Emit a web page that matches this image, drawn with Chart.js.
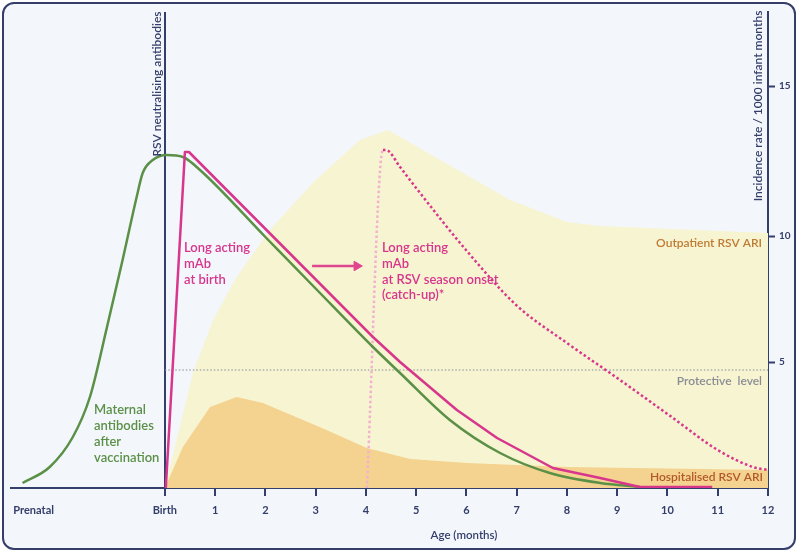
<!DOCTYPE html>
<html>
<head>
<meta charset="utf-8">
<script src="https://cdn.jsdelivr.net/npm/chart.js@4.4.0/dist/chart.umd.min.js"></script>
<style>
  html, body { margin: 0; padding: 0; background: #ffffff; }
  canvas { display: block; }
</style>
</head>
<body>
<canvas id="c" width="800" height="553"></canvas>
<script>
// ---------- data ----------
const xTickValues = [-2.61, 0, 1, 2, 3, 4, 5, 6, 7, 8, 9, 10, 11, 12];
const xTickLabels = ['Prenatal', 'Birth', '1', '2', '3', '4', '5', '6', '7', '8', '9', '10', '11', '12'];
const incidenceTickValues = [25.2, 50.4, 80.4];
const incidenceTickLabels = ['5', '10', '15'];

const outpatientX = [0, 0.56, 0.96, 1.43, 2.09, 2.94, 3.88, 4.44, 4.68, 6.87, 8.0, 8.66, 12];
const outpatientY = [0, 23, 33.6, 42.2, 51.6, 61, 69.6, 71.6, 70.2, 57.6, 53.2, 52.4, 51];

const hospitalX = [0, 0.36, 0.9, 1.43, 1.95, 3.08, 4.02, 4.88, 6.01, 8.0, 12];
const hospitalY = [0, 8.2, 16.2, 18.2, 17, 12.2, 8, 5.8, 5, 4.2, 3.6];

const maternalX = [-2.83, -2.29, -1.83, -1.49, -1.15, -0.84, -0.56, -0.44, -0.24, 0.04, 0.36, 0.70, 2, 3, 4.14, 4.68, 5.67, 6.67, 7.66, 8.66, 9.45];
const maternalY = [1, 4.2, 10.2, 18.2, 32.2, 45.6, 58.2, 63, 65.6, 66.6, 66.2, 63.6, 50.2, 39.9, 28.2, 23, 13.6, 7, 3, 1, 0.2];

const mabBirthX = [0.02, 0.4, 0.48, 4.14, 4.68, 5.81, 6.61, 7.72, 8.66, 9.45, 10.89];
const mabBirthY = [0, 67.2, 67.2, 30.2, 25.2, 15.6, 10, 4, 2, 0.2, 0.2];

const catchUpX = [4.02, 4.34, 4.4, 4.68, 5, 6, 7, 8, 9, 10, 11, 11.7, 12];
const catchUpY = [0, 67.6, 67.6, 64.2, 60, 47.5, 36.5, 29, 22, 14.8, 7.6, 4.2, 3.6];

const protectiveX = [0, 12];
const protectiveY = [23.6, 23.6];

const arrowX = [2.93, 3.82];
const arrowY = [44.4, 44.4];

// ---------- styling ----------
const NAVY = '#343e6a';
const GREEN = '#5b9047';
const PINK = '#d8358c';
const PINK_FADED = '#f3b0cf';
const pts = (xs, ys) => xs.map((x, i) => ({ x: x, y: ys[i] }));

const framePlugin = {
  id: 'frame',
  beforeDraw(chart) {
    const ctx = chart.ctx;
    ctx.save();
    ctx.fillStyle = '#ffffff';
    ctx.fillRect(0, 0, chart.width, chart.height);
    ctx.beginPath();
    ctx.roundRect(3, 3, 792, 546, 11);
    ctx.fillStyle = '#f3f6fb';
    ctx.fill();
    ctx.lineWidth = 2;
    ctx.strokeStyle = NAVY;
    ctx.stroke();
    ctx.restore();
  }
};

const textPlugin = {
  id: 'texts',
  afterDraw(chart) {
    const ctx = chart.ctx;
    ctx.save();
    ctx.textBaseline = 'middle';
    const lines = (arr, x, y0, dy, color, font, align) => {
      ctx.fillStyle = color; ctx.font = font; ctx.textAlign = align || 'left';
      arr.forEach((t, i) => ctx.fillText(t, x, y0 + i * dy));
    };
    lines(['Maternal', 'antibodies', 'after', 'vaccination'], 94, 410, 16, GREEN, '600 13px Lato');
    lines(['Long acting', 'mAb', 'at birth'], 184, 248, 15.7, PINK, '600 13px Lato');
    lines(['Long acting', 'mAb', 'at RSV season onset', '(catch-up)*'], 382, 248, 15.7, PINK, '600 13px Lato');
    lines(['Outpatient RSV ARI'], 762, 243, 0, '#c07a34', '600 12px Lato', 'right');
    lines(['Protective  level'], 762, 381, 0, '#8a8d94', '600 12px Lato', 'right');
    lines(['Hospitalised RSV ARI'], 763, 477, 0, '#b3582a', '600 12px Lato', 'right');
    lines(['Age (months)'], 464, 535, 0, NAVY, '600 11.5px Lato', 'center');

    // rotated axis titles
    ctx.fillStyle = NAVY;
    ctx.font = '600 12px Lato';
    ctx.textAlign = 'center';
    ctx.save();
    ctx.translate(157, 84);
    ctx.rotate(-Math.PI / 2);
    ctx.fillText('RSV neutralising antibodies', 0, 0);
    ctx.restore();
    ctx.save();
    ctx.translate(758, 106);
    ctx.rotate(-Math.PI / 2);
    ctx.fillText('Incidence rate / 1000 infant months', 0, 0);
    ctx.restore();
    ctx.restore();
  }
};

const tickFont = { family: 'Lato', size: 11, weight: 'bold' };

new Chart(document.getElementById('c'), {
  type: 'line',
  data: {
    datasets: [
      { label: 'Outpatient RSV ARI', data: pts(outpatientX, outpatientY), fill: 'origin',
        backgroundColor: '#f7f4d1', borderWidth: 0, borderColor: 'transparent', pointRadius: 0, tension: 0, order: 10 },
      { label: 'Hospitalised RSV ARI', data: pts(hospitalX, hospitalY), fill: 'origin',
        backgroundColor: '#f4d290', borderWidth: 0, borderColor: 'transparent', pointRadius: 0, tension: 0, order: 9 },
      { label: 'Protective level', data: pts(protectiveX, protectiveY), fill: false,
        borderColor: '#858b99', borderWidth: 1, borderDash: [1.5, 2], pointRadius: 0, order: 8 },
      { label: 'Long acting mAb at RSV season onset', data: pts(catchUpX, catchUpY), fill: false,
        borderColor: PINK, borderWidth: 2.5, borderDash: [2.5, 2.5], pointRadius: 0,
        cubicInterpolationMode: 'monotone', order: 4,
        segment: { borderColor: c => c.p0DataIndex === 0 ? PINK_FADED : PINK } },
      { label: 'Maternal antibodies after vaccination', data: pts(maternalX, maternalY), fill: false,
        borderColor: GREEN, borderWidth: 2.5, pointRadius: 0, cubicInterpolationMode: 'monotone', order: 3 },
      { label: 'Long acting mAb at birth', data: pts(mabBirthX, mabBirthY), fill: false,
        borderColor: PINK, borderWidth: 2.5, pointRadius: 0, tension: 0, borderJoinStyle: 'round', order: 2 },
      { label: 'arrow', data: pts(arrowX, arrowY), fill: false,
        borderColor: '#e0468f', backgroundColor: '#e0468f', borderWidth: 2.5,
        pointRadius: [0, 5.5], pointStyle: 'triangle', rotation: 90,
        pointBackgroundColor: '#e0468f', pointBorderColor: '#e0468f', pointBorderWidth: 1, order: 1 }
    ]
  },
  options: {
    responsive: false,
    animation: false,
    devicePixelRatio: 1,
    layout: { padding: { left: 11, top: 12, right: 0, bottom: 0 } },
    plugins: { legend: { display: false }, tooltip: { enabled: false } },
    scales: {
      x: {
        type: 'linear', min: -3.06, max: 12, position: 'bottom', z: 1,
        afterBuildTicks: s => { s.ticks = xTickValues.map(v => ({ value: v })); },
        afterFit: s => { s.height = 65; },
        ticks: {
          autoSkip: false, maxRotation: 0, minRotation: 0, padding: 8,
          color: NAVY, font: tickFont,
          callback: (v, i) => xTickLabels[i]
        },
        grid: {
          drawOnChartArea: true, tickLength: 8,
          color: c => (c.tick && c.tick.value === 0) ? NAVY : 'rgba(0,0,0,0)',
          lineWidth: 2,
          tickColor: c => (c.tick && c.tick.value < -1) ? 'rgba(0,0,0,0)' : NAVY,
          tickWidth: 2
        },
        border: { display: true, color: NAVY, width: 2 }
      },
      y: { display: false, min: 0, max: 95.2 },
      y2: {
        type: 'linear', position: 'right', min: 0, max: 95.2,
        afterBuildTicks: s => { s.ticks = incidenceTickValues.map(v => ({ value: v })); },
        afterFit: s => { s.width = 32; },
        ticks: { color: NAVY, font: { family: 'Lato', size: 10, weight: 'bold' }, padding: 4,
                 callback: (v, i) => incidenceTickLabels[i] },
        grid: { drawOnChartArea: false, tickLength: 7, tickColor: NAVY, tickWidth: 2 },
        border: { display: true, color: NAVY, width: 2 }
      }
    }
  },
  plugins: [framePlugin, textPlugin]
});
</script>
</body>
</html>
